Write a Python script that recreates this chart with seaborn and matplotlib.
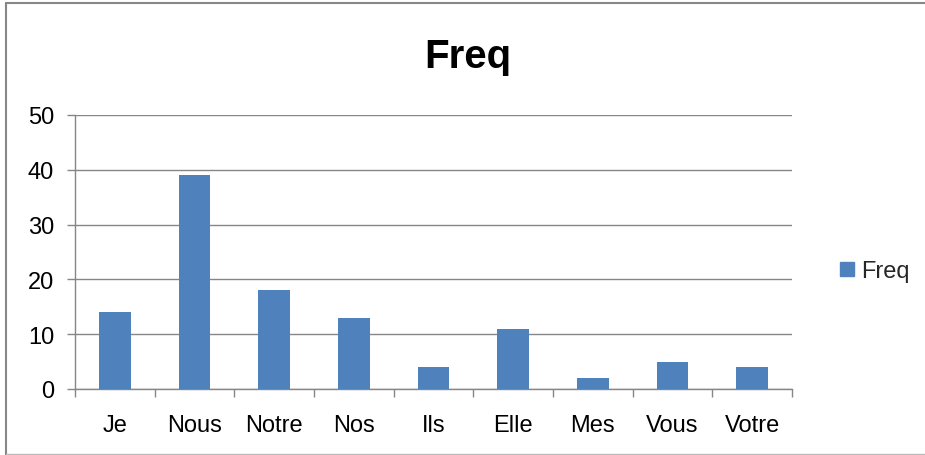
import matplotlib
matplotlib.use("Agg")
import matplotlib.pyplot as plt
import pandas as pd
import seaborn as sns
from matplotlib.lines import Line2D

# data
words = ["Je", "Nous", "Notre", "Nos", "Ils", "Elle", "Mes", "Vous", "Votre"]
freq = [14, 39, 18, 13, 4, 11, 2, 5, 4]
y_ticks = [0, 10, 20, 30, 40, 50]

BAR_COLOR = "#4F81BD"
GRID_COLOR = "#868686"
W, H = 925, 456

df = pd.DataFrame({"word": words, "Freq": freq})

sns.set_theme(style="white")
plt.rcParams["font.family"] = ["Liberation Sans", "DejaVu Sans"]

fig = plt.figure(figsize=(W / 100, H / 100), dpi=100)
ax = fig.add_axes([75 / W, 1 - 390 / H, (792 - 75) / W, (390 - 116) / H])

sns.barplot(data=df, x="word", y="Freq", color=BAR_COLOR, width=0.4,
            saturation=1, linewidth=0, label="Freq", ax=ax, zorder=3)

ax.set_ylim(0, 50)
ax.set_xlim(-0.5, len(words) - 0.5)
ax.set_yticks(y_ticks)
ax.set_xlabel("")
ax.set_ylabel("")
ax.yaxis.grid(True, color=GRID_COLOR, linewidth=1, zorder=0)

for side in ["top", "right"]:
    ax.spines[side].set_visible(False)
for side in ["left", "bottom"]:
    ax.spines[side].set_color(GRID_COLOR)
    ax.spines[side].set_linewidth(1)

ax.tick_params(axis="y", which="major", left=True, length=6, width=1,
               color=GRID_COLOR, pad=9, labelsize=17, labelcolor="#000000")
ax.tick_params(axis="x", which="major", bottom=False, length=0, pad=18,
               labelsize=17, labelcolor="#000000")
ax.set_xticks([i - 0.5 for i in range(len(words) + 1)], minor=True)
ax.tick_params(axis="x", which="minor", bottom=True, length=6, width=1,
               color=GRID_COLOR)

fig.text(468 / W, 1 - 57 / H, "Freq", ha="center", va="center",
         fontsize=29, fontweight="bold", color="#000000")

handle = Line2D([], [], marker="s", linestyle="none", markersize=10,
                markerfacecolor=BAR_COLOR, markeredgecolor=BAR_COLOR)
ax.legend([handle], ["Freq"], loc="center left", frameon=False,
          bbox_to_anchor=(826 / W, 1 - 272 / H), bbox_transform=fig.transFigure,
          fontsize=17, handlelength=0.8, handletextpad=0.2, borderpad=0)

# outer chart border
fig.add_artist(Line2D([6 / W, 1], [1 - 4 / H, 1 - 4 / H], color="#878787",
                      linewidth=1.5, transform=fig.transFigure))
fig.add_artist(Line2D([6 / W, 6 / W], [0, 1 - 4 / H], color="#878787",
                      linewidth=1.5, transform=fig.transFigure))
fig.add_artist(Line2D([6 / W, 1], [1 / H, 1 / H], color="#BBBBBB",
                      linewidth=1, transform=fig.transFigure))

fig.savefig("out.png", dpi=100, facecolor="white")
plt.close(fig)
